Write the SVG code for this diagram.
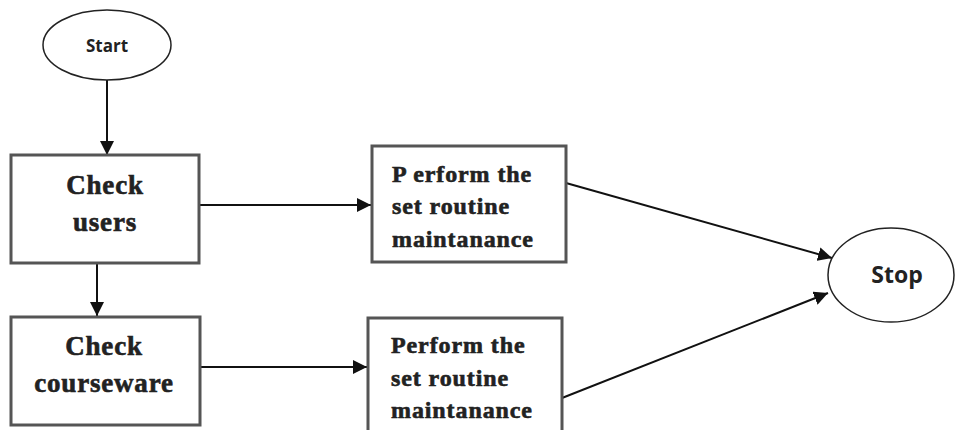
<svg xmlns="http://www.w3.org/2000/svg" width="955" height="430" viewBox="0 0 955 430">
  <defs>
    <marker id="arrow" viewBox="0 0 10 10" refX="10" refY="5" markerWidth="14" markerHeight="14" markerUnits="userSpaceOnUse" orient="auto">
      <path d="M0,0 L10,5 L0,10 z" fill="#111"/>
    </marker>
    <style>
      .term { fill: #fff; stroke: #222; stroke-width: 1.5; }
      .box { fill: #fff; stroke: #555; stroke-width: 3; }
      .edge { fill: none; stroke: #111; stroke-width: 2; }
      .sans { font-family: "Open Sans", "Liberation Sans", sans-serif; font-weight: bold; fill: #222; }
      .serif { font-family: "Liberation Serif", "Times New Roman", serif; font-weight: bold; fill: #222; stroke: #222; stroke-width: 0.6; }
      .big { font-size: 27px; letter-spacing: 0.8px; }
      .mid { font-size: 24px; letter-spacing: 0.9px; }
    </style>
  </defs>
  <rect width="955" height="430" fill="#fff"/>

  <g id="connectors">
    <line class="edge" x1="107" y1="80" x2="107" y2="155" marker-end="url(#arrow)"/>
    <line class="edge" x1="97" y1="263" x2="97" y2="316" marker-end="url(#arrow)"/>
    <line class="edge" x1="199" y1="205" x2="371" y2="205" marker-end="url(#arrow)"/>
    <line class="edge" x1="200" y1="367" x2="367" y2="367" marker-end="url(#arrow)"/>
    <line class="edge" x1="566" y1="183" x2="832" y2="258" marker-end="url(#arrow)"/>
    <line class="edge" x1="562" y1="398" x2="828" y2="293" marker-end="url(#arrow)"/>
  </g>

  <g id="start">
    <ellipse class="term" cx="107" cy="45" rx="64" ry="35"/>
    <text class="sans" x="107" y="52" font-size="17" text-anchor="middle">Start</text>
  </g>

  <g id="check-users">
    <rect class="box" x="11" y="155" width="188" height="108"/>
    <text class="serif big" x="105" y="194" text-anchor="middle">Check</text>
    <text class="serif big" x="105" y="231" text-anchor="middle">users</text>
  </g>

  <g id="check-courseware">
    <rect class="box" x="11" y="317" width="189" height="108"/>
    <text class="serif big" x="104" y="355" text-anchor="middle">Check</text>
    <text class="serif big" x="104" y="392" text-anchor="middle">courseware</text>
  </g>

  <g id="maintenance-users">
    <rect class="box" x="372" y="146" width="194" height="116"/>
    <text class="serif mid" x="392" y="182">P erform the</text>
    <text class="serif mid" x="392" y="214">set routine</text>
    <text class="serif mid" x="392" y="247">maintanance</text>
  </g>

  <g id="maintenance-courseware">
    <rect class="box" x="368" y="318" width="194" height="120"/>
    <text class="serif mid" x="391" y="353">Perform the</text>
    <text class="serif mid" x="391" y="386">set routine</text>
    <text class="serif mid" x="391" y="418">maintanance</text>
  </g>

  <g id="stop">
    <ellipse class="term" cx="891" cy="275" rx="63" ry="47"/>
    <text class="sans" x="897" y="283" font-size="23" text-anchor="middle">Stop</text>
  </g>
</svg>
